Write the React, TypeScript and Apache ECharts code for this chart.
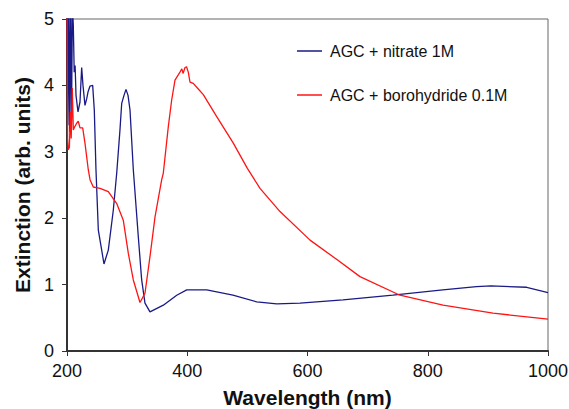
import React, { useEffect, useRef } from "react";
import * as echarts from "echarts";

const nitrateX = [200, 201.5, 203, 204.5, 206, 207.5, 209, 210.5, 212, 213.5, 215, 218.3, 221.6, 224.4, 226.6, 229.9, 232.8, 234.9, 238.3, 242.7, 245.4, 248.2, 252.1, 257.7, 261.5, 268.7, 277, 282.7, 288.1, 291, 294.8, 298.1, 301.5, 304.8, 310.3, 318.6, 324.2, 329.7, 338, 360.2, 382.5, 399.1, 432.4, 476, 515.5, 548.8, 587.5, 659, 742, 825, 881, 905, 964.6, 1000];
const nitrateY = [5.4, 3.4, 5.3, 3.3, 5.4, 3.5, 5.2, 4.9, 4.2, 4.3, 3.85, 3.6, 3.75, 4.27, 4.0, 3.7, 3.8, 3.9, 3.99, 4.0, 3.63, 2.73, 1.82, 1.52, 1.31, 1.52, 2.12, 2.68, 3.33, 3.73, 3.85, 3.94, 3.85, 3.63, 2.73, 1.72, 1.07, 0.72, 0.59, 0.69, 0.84, 0.92, 0.92, 0.84, 0.74, 0.71, 0.72, 0.77, 0.84, 0.92, 0.97, 0.98, 0.96, 0.88];

const borohydrideX = [200, 201, 202.2, 204, 205.5, 207, 208.8, 210.5, 213, 216.1, 218.8, 221.6, 226.1, 229.9, 235.4, 238.3, 243.7, 254.9, 268.7, 282.7, 293.6, 302, 310.3, 321.4, 329.7, 338, 346.4, 357.5, 360.2, 368.5, 374.1, 379.6, 387.9, 391, 393, 396.3, 398.8, 401.7, 404.6, 410, 418, 426.7, 449, 476.6, 500, 521, 554.3, 604.2, 650, 687.3, 753.8, 825.4, 908.5, 1000];
const borohydrideY = [5.3, 3.2, 3.03, 3.07, 3.6, 3.2, 3.96, 3.33, 3.38, 3.43, 3.46, 3.36, 3.36, 3.13, 2.73, 2.58, 2.47, 2.45, 2.4, 2.22, 1.97, 1.47, 1.07, 0.73, 0.87, 1.42, 2.02, 2.58, 2.68, 3.38, 3.78, 4.08, 4.2, 4.25, 4.18, 4.27, 4.28, 4.2, 4.05, 4.03, 3.95, 3.86, 3.53, 3.13, 2.75, 2.45, 2.1, 1.67, 1.37, 1.12, 0.84, 0.69, 0.57, 0.48];

const xTicks = { min: 200, max: 1000, interval: 200 };
const yTicks = { min: 0, max: 5, interval: 1 };

const seriesNames = ["AGC + nitrate 1M", "AGC + borohydride 0.1M"];
const seriesColors = ["#1a1a86", "#ff1414"];

export default function App() {
  const ref = useRef<HTMLDivElement>(null);
  useEffect(() => {
    if (!ref.current) return;
    const chart = echarts.init(ref.current, undefined, { renderer: "svg" });
    const font = "'Liberation Sans', Arial, sans-serif";
    chart.setOption({
      animation: false,
      textStyle: { fontFamily: font },
      grid: {
        left: 67,
        right: 21,
        top: 19,
        bottom: 58,
        containLabel: false,
        outerBoundsMode: "none",
        show: true,
        borderColor: "#666",
        borderWidth: 1,
      },
      legend: {
        orient: "vertical",
        left: 292,
        top: 38,
        itemGap: 28,
        itemWidth: 25,
        itemHeight: 1.5,
        icon: "rect",
        textStyle: { fontSize: 16, lineHeight: 16, color: "#111", fontFamily: font, padding: [0, 0, 0, 3] },
        data: seriesNames,
      },
      xAxis: {
        type: "value",
        min: xTicks.min,
        max: xTicks.max,
        interval: xTicks.interval,
        name: "Wavelength (nm)",
        nameLocation: "middle",
        nameGap: 36,
        nameTextStyle: { fontSize: 21, fontWeight: "bold", color: "#111", fontFamily: font },
        axisLine: { show: true, lineStyle: { color: "#333", width: 2 } },
        axisTick: { show: true, inside: false, length: 5, lineStyle: { color: "#333", width: 1 } },
        axisLabel: { fontSize: 18, color: "#111", margin: 11, fontFamily: font, formatter: (v: number) => String(v) },
        splitLine: { show: false },
      },
      yAxis: {
        type: "value",
        min: yTicks.min,
        max: yTicks.max,
        interval: yTicks.interval,
        name: "Extinction (arb. units)",
        nameLocation: "middle",
        nameGap: 34,
        nameTextStyle: { fontSize: 21, fontWeight: "bold", color: "#111", fontFamily: font },
        axisLine: { show: true, lineStyle: { color: "#333", width: 2 } },
        axisTick: { show: true, inside: false, length: 5, lineStyle: { color: "#333", width: 1 } },
        axisLabel: { fontSize: 18, color: "#111", margin: 13, fontFamily: font },
        splitLine: { show: false },
      },
      series: [
        {
          name: seriesNames[0],
          type: "line",
          symbol: "none",
          clip: true,
          data: nitrateX.map((x, i) => [x, nitrateY[i]]),
          lineStyle: { color: seriesColors[0], width: 1.3 },
          itemStyle: { color: seriesColors[0] },
        },
        {
          name: seriesNames[1],
          type: "line",
          symbol: "none",
          clip: true,
          data: borohydrideX.map((x, i) => [x, borohydrideY[i]]),
          lineStyle: { color: seriesColors[1], width: 1.3 },
          itemStyle: { color: seriesColors[1] },
        },
      ],
    });
    return () => chart.dispose();
  }, []);
  return <div ref={ref} style={{ width: 569, height: 409, position: "absolute", left: 0, top: 0 }} />;
}
